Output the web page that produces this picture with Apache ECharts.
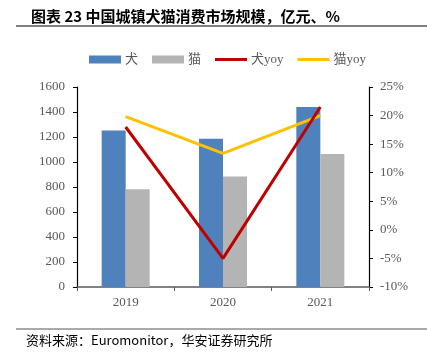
<!DOCTYPE html>
<html><head><meta charset="utf-8">
<script src="https://cdn.jsdelivr.net/npm/echarts@6/dist/echarts.min.js"></script>
<style>html,body{margin:0;padding:0;background:#fff}#c{width:427px;height:359px}</style>
</head><body><div id="c"></div>
<script>
const categories = ['2019', '2020', '2021'];
const dogMarket = [1252, 1186, 1440];
const catMarket = [782, 885, 1065];
const dogYoy = [18.0, -5.0, 21.5];
const catYoy = [19.8, 13.4, 20.0];
const leftTicks = {min: 0, max: 1600, interval: 200};
const rightTicks = {min: -10, max: 25, interval: 5};

const serif = '"Liberation Serif","Times New Roman","Noto Sans CJK SC",serif';
const lineIcon = 'path://M0,0H32V3.2H0Z';
const chart = echarts.init(document.getElementById('c'), null, {renderer: 'canvas'});
chart.setOption({
  animation: false,
  backgroundColor: '#fff',
  title: {
    text: '图表 23 中国城镇犬猫消费市场规模，亿元、%',
    left: 26, top: 4,
    textStyle: {fontFamily: '"Noto Sans CJK SC",sans-serif', fontWeight: 'bold', fontSize: 15, color: '#000'}
  },
  graphic: [
    {type: 'line', shape: {x1: 16, y1: 26, x2: 427, y2: 26}, style: {stroke: '#000', lineWidth: 1.2}},
    {type: 'line', shape: {x1: 16, y1: 329, x2: 427, y2: 329}, style: {stroke: '#555', lineWidth: 1}},
    {type: 'text', left: 26, top: 334, style: {text: '资料来源：Euromonitor，华安证券研究所', fontFamily: '"Noto Sans CJK SC",sans-serif', fontSize: 13, fill: '#000'}}
  ],
  legend: {
    left: 84, top: 48,
    itemWidth: 32, itemHeight: 8, itemGap: 14,
    textStyle: {fontFamily: serif, fontSize: 13, color: '#595959', padding: [0, 0, 0, -1]},
    data: [
      {name: '犬', icon: 'rect'},
      {name: '猫', icon: 'rect'},
      {name: '犬yoy', icon: lineIcon},
      {name: '猫yoy', icon: lineIcon}
    ]
  },
  grid: {left: 77, right: 58, top: 87, bottom: 72},
  xAxis: {
    type: 'category', data: categories,
    axisLine: {lineStyle: {color: '#595959', width: 1.5}},
    axisTick: {show: true, alignWithLabel: false, length: 4, lineStyle: {color: '#595959'}},
    axisLabel: {fontFamily: serif, fontSize: 13, color: '#595959', margin: 9}
  },
  yAxis: [
    {
      type: 'value', min: leftTicks.min, max: leftTicks.max, interval: leftTicks.interval,
      axisLine: {show: true, lineStyle: {color: '#000', width: 1.2}},
      axisTick: {show: true, length: 4, lineStyle: {color: '#000'}},
      splitLine: {show: false},
      axisLabel: {fontFamily: serif, fontSize: 13, color: '#595959', margin: 12, formatter: v => String(v)}
    },
    {
      type: 'value', min: rightTicks.min, max: rightTicks.max, interval: rightTicks.interval,
      position: 'right',
      axisLine: {show: true, lineStyle: {color: '#000', width: 1.2}},
      axisTick: {show: true, length: 4, lineStyle: {color: '#000'}},
      splitLine: {show: false},
      axisLabel: {fontFamily: serif, fontSize: 13, color: '#595959', margin: 11, formatter: v => v + '%'}
    }
  ],
  series: [
    {name: '犬', type: 'bar', data: dogMarket, barWidth: 24, barGap: '0%', itemStyle: {color: '#4F81BD'}},
    {name: '猫', type: 'bar', data: catMarket, barWidth: 24, barGap: '0%', itemStyle: {color: '#B4B4B4'}},
    {name: '犬yoy', type: 'line', yAxisIndex: 1, data: dogYoy, symbol: 'none', lineStyle: {color: '#C00000', width: 3}, itemStyle: {color: '#C00000'}, z: 5},
    {name: '猫yoy', type: 'line', yAxisIndex: 1, data: catYoy, symbol: 'none', lineStyle: {color: '#FFC000', width: 3}, itemStyle: {color: '#FFC000'}, z: 4}
  ]
});
</script></body></html>
